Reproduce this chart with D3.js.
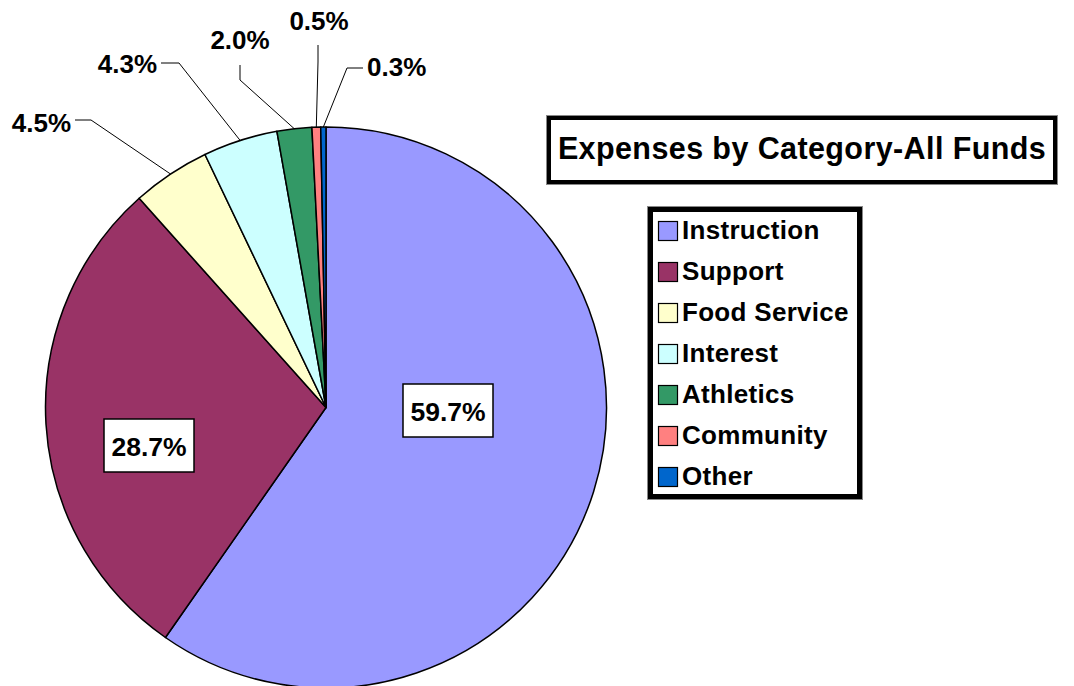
<!DOCTYPE html>
<html>
<head>
<meta charset="utf-8">
<script src="https://cdn.jsdelivr.net/npm/d3@7"></script>
<style>
  body { margin: 0; background: #fff; }
  svg { display: block; font-family: "Liberation Sans", Arial, sans-serif; font-weight: bold; }
</style>
</head>
<body>
<svg></svg>
<script>
var width = 1074, height = 686;

// data
var categories = ["Instruction", "Support", "Food Service", "Interest", "Athletics", "Community", "Other"];
var values = [59.7, 28.7, 4.5, 4.3, 2.0, 0.5, 0.3];
var colors = ["#9999ff", "#993366", "#ffffcc", "#ccffff", "#339966", "#ff8080", "#0066cc"];
var title = "Expenses by Category-All Funds";

// label layout, offsets from pie centre
// inside: [x, y] box centre ; outside: elbow, line end, text anchor
var labelLayout = [
  {type: "in", pos: [122, 3]},
  {type: "in", pos: [-177, 38]},
  {type: "out", elbow: [-235, -287.5], end: [-251, -287.5], text: [-255, -275.5], anchor: "end"},
  {type: "out", elbow: [-147, -344.5], end: [-165, -344.5], text: [-169, -334.5], anchor: "end"},
  {type: "out", elbow: [-86, -327.5], end: [-86, -342.5], text: [-86, -358.5], anchor: "middle"},
  {type: "out", elbow: [-8, -345.5], end: [-8, -362.5], text: [-7, -377.5], anchor: "middle"},
  {type: "out", elbow: [21, -339.5], end: [37, -339.5], text: [41, -331.5], anchor: "start"}
];

var cx = 326, cy = 407.5, radius = 280.5;

var svg = d3.select("svg")
    .attr("width", width)
    .attr("height", height);

svg.append("rect").attr("width", width).attr("height", height).attr("fill", "#fff");

var pie = d3.pie().sort(null).value(function(d) { return d; });
var arcs = pie(values);

var arc = d3.arc().innerRadius(0).outerRadius(radius);

var g = svg.append("g").attr("transform", "translate(" + cx + "," + cy + ")");

g.selectAll("path.slice")
  .data(arcs)
  .enter().append("path")
    .attr("class", "slice")
    .attr("d", arc)
    .attr("fill", function(d, i) { return colors[i]; })
    .attr("stroke", "#000")
    .attr("stroke-width", 1.5)
    .attr("stroke-linejoin", "round");

var fmt = function(v) { return d3.format(".1f")(v) + "%"; };

// labels
arcs.forEach(function(d, i) {
  var lay = labelLayout[i];
  if (lay.type === "in") {
    var lg = g.append("g").attr("transform", "translate(" + lay.pos[0] + "," + lay.pos[1] + ")");
    lg.append("rect")
      .attr("x", -45).attr("y", -26.5)
      .attr("width", 90).attr("height", 53)
      .attr("fill", "#fff")
      .attr("stroke", "#000")
      .attr("stroke-width", 1.5);
    lg.append("text")
      .attr("text-anchor", "middle")
      .attr("y", 10)
      .attr("font-size", 26.5)
      .attr("fill", "#000")
      .text(fmt(values[i]));
  } else {
    var mid = (d.startAngle + d.endAngle) / 2;
    var ex = radius * Math.sin(mid), ey = -radius * Math.cos(mid);
    g.append("polyline")
      .attr("points", [[ex, ey], lay.elbow, lay.end].map(function(p) { return p.join(","); }).join(" "))
      .attr("fill", "none")
      .attr("stroke", "#000")
      .attr("stroke-width", 1);
    g.append("text")
      .attr("x", lay.text[0])
      .attr("y", lay.text[1])
      .attr("text-anchor", lay.anchor)
      .attr("font-size", 26)
      .attr("fill", "#000")
      .text(fmt(values[i]));
  }
});

// title box
svg.append("rect")
  .attr("x", 546.5).attr("y", 115.5).attr("width", 511).attr("height", 69)
  .attr("fill", "none").attr("stroke", "#888").attr("stroke-width", 1);
svg.append("rect")
  .attr("x", 549).attr("y", 118).attr("width", 506).attr("height", 64)
  .attr("fill", "#fff").attr("stroke", "#000").attr("stroke-width", 4);
svg.append("text")
  .attr("x", 802).attr("y", 159)
  .attr("text-anchor", "middle")
  .attr("font-size", 30.5)
  .attr("letter-spacing", 0.4)
  .attr("fill", "#000")
  .text(title);

// legend
svg.append("rect")
  .attr("x", 647.5).attr("y", 206.5).attr("width", 215).attr("height", 293)
  .attr("fill", "none").attr("stroke", "#888").attr("stroke-width", 1);
svg.append("rect")
  .attr("x", 650.5).attr("y", 209.5).attr("width", 209).attr("height", 287)
  .attr("fill", "#fff").attr("stroke", "#000").attr("stroke-width", 5);

var ly = d3.scalePoint().domain(categories).range([221, 467]);

var item = svg.selectAll("g.legend-item")
  .data(categories)
  .enter().append("g")
    .attr("class", "legend-item")
    .attr("transform", function(d) { return "translate(658," + ly(d) + ")"; });

item.append("rect")
  .attr("x", 0.5).attr("y", 0.5)
  .attr("width", 19).attr("height", 19)
  .attr("fill", function(d, i) { return colors[i]; })
  .attr("stroke", "#000")
  .attr("stroke-width", 1.2);

item.append("text")
  .attr("x", 24).attr("y", 18)
  .attr("font-size", 26)
  .attr("letter-spacing", 0.3)
  .attr("fill", "#000")
  .text(function(d) { return d; });
</script>
</body>
</html>
